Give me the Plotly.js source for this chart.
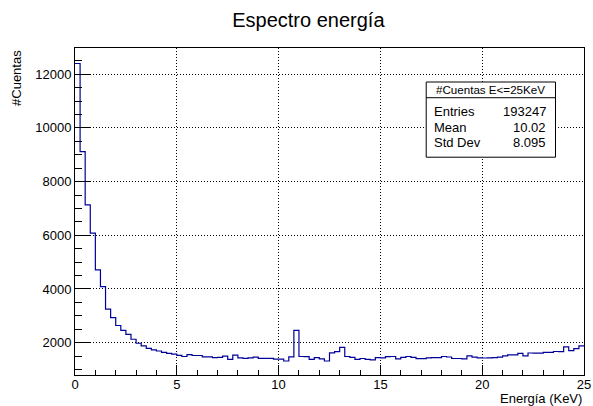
<!DOCTYPE html>
<html>
<head>
<meta charset="utf-8">
<script src="https://cdn.plot.ly/plotly-3.0.1.min.js"></script>
<style>
  html, body { margin: 0; padding: 0; background: #ffffff; }
  #chart { width: 593px; height: 406px; }
</style>
</head>
<body>
<div id="chart"></div>
<script>
// Energy spectrum histogram: 100 bins of 0.25 KeV between 0 and 25 KeV
const binLow = 0;
const binWidth = 0.25;
const counts = [
  12400, 9120, 7130, 6080, 4710, 4090, 3250, 2930, 2640, 2455,
  2305, 2127, 1978, 1877, 1790, 1728, 1690, 1635, 1597, 1572,
  1528, 1485, 1553, 1522, 1522, 1468, 1468, 1445, 1455, 1498,
  1380, 1533, 1432, 1418, 1430, 1460, 1418, 1418, 1412, 1385,
  1385, 1317, 1472, 2455, 1485, 1480, 1380, 1441, 1398, 1317,
  1620, 1665, 1827, 1485, 1454, 1380, 1410, 1380, 1360, 1445,
  1430, 1479, 1485, 1395, 1448, 1485, 1448, 1404, 1404, 1435,
  1440, 1441, 1485, 1466, 1410, 1410, 1398, 1510, 1460, 1435,
  1429, 1435, 1441, 1460, 1510, 1547, 1547, 1603, 1504, 1615,
  1610, 1610, 1635, 1640, 1670, 1665, 1840, 1703, 1778, 1877
];

// Stats panel
const statsTitle = "#Cuentas E<=25KeV";
const statsLabels = ["Entries", "Mean", "Std Dev"];
const statsValues = ["193247", "10.02", "8.095"];

// Step outline: bin edges with the last content repeated for the closing edge
const edges = counts.map((_, i) => binLow + i * binWidth);
edges.push(binLow + counts.length * binWidth);
const stepY = counts.concat([counts[counts.length - 1]]);

const FONT = "Liberation Sans, Arial, Helvetica, sans-serif";

const trace = {
  type: "scatter",
  mode: "lines",
  x: edges,
  y: stepY,
  line: { shape: "hv", color: "#000099", width: 1.2 },
  hoverinfo: "skip",
  showlegend: false
};

// Stats box geometry in paper coordinates
const bx0 = 0.690, bx1 = 0.944, by0 = 0.666, by1 = 0.896, bsep = 0.848;
const rowY = [0.807, 0.758, 0.710];

const shapes = [
  { type: "rect", xref: "paper", yref: "paper", x0: bx0, x1: bx1, y0: by0, y1: by1,
    line: { color: "black", width: 1 }, fillcolor: "white", layer: "above" },
  { type: "line", xref: "paper", yref: "paper", x0: bx0, x1: bx1, y0: bsep, y1: bsep,
    line: { color: "black", width: 1 }, layer: "above" }
];

const annotations = [
  { xref: "paper", yref: "paper", x: (bx0 + bx1) / 2, y: (bsep + by1) / 2,
    text: statsTitle.replace(/</g, "&lt;"), showarrow: false, xanchor: "center", yanchor: "middle",
    font: { family: FONT, size: 11.6, color: "black" } },
  { xref: "paper", yref: "paper", x: 1, y: -0.073, text: "Energía (KeV)",
    showarrow: false, xanchor: "right", yanchor: "middle",
    font: { family: FONT, size: 13, color: "black" } },
  { xref: "paper", yref: "paper", x: -0.116, y: 1.0, text: "#Cuentas", textangle: -90,
    showarrow: false, xanchor: "center", yanchor: "top",
    font: { family: FONT, size: 13, color: "black" } }
];
statsLabels.forEach((lab, i) => {
  annotations.push({ xref: "paper", yref: "paper", x: bx0 + 0.012, y: rowY[i], text: lab,
    showarrow: false, xanchor: "left", yanchor: "middle",
    font: { family: FONT, size: 13, color: "black" } });
  annotations.push({ xref: "paper", yref: "paper", x: bx1 - 0.014, y: rowY[i], text: statsValues[i],
    showarrow: false, xanchor: "right", yanchor: "middle",
    font: { family: FONT, size: 13, color: "black" } });
});

const GRID_DASH = "1px,2px";

const layout = {
  width: 593,
  height: 406,
  margin: { l: 75, r: 9, t: 48, b: 31, pad: 0 },
  paper_bgcolor: "white",
  plot_bgcolor: "white",
  title: { text: "Espectro energía", x: 0.52, xanchor: "center", y: 0.95, yanchor: "middle",
           font: { family: FONT, size: 20, color: "black" } },
  xaxis: {
    range: [0, 25],
    tickmode: "linear", tick0: 0, dtick: 5,
    ticks: "inside", ticklen: 10, tickwidth: 1, tickcolor: "black",
    ticklabelstandoff: -3,
    minor: { dtick: 1, ticks: "inside", ticklen: 5, tickwidth: 1, tickcolor: "black", showgrid: false },
    showgrid: true, gridcolor: "black", griddash: GRID_DASH, gridwidth: 1,
    showline: true, linecolor: "black", linewidth: 1, mirror: true,
    zeroline: false,
    tickfont: { family: FONT, size: 13, color: "black" }
  },
  yaxis: {
    range: [795, 12978],
    tickmode: "linear", tick0: 0, dtick: 2000, tickformat: "d",
    ticks: "inside", ticklen: 15, tickwidth: 1, tickcolor: "black",
    minor: { dtick: 500, ticks: "inside", ticklen: 7, tickwidth: 1, tickcolor: "black", showgrid: false },
    showgrid: true, gridcolor: "black", griddash: GRID_DASH, gridwidth: 1,
    showline: true, linecolor: "black", linewidth: 1, mirror: true,
    zeroline: false,
    tickfont: { family: FONT, size: 13, color: "black" }
  },
  shapes: shapes,
  annotations: annotations
};

Plotly.newPlot("chart", [trace], layout, { displayModeBar: false, staticPlot: true });
</script>
</body>
</html>
